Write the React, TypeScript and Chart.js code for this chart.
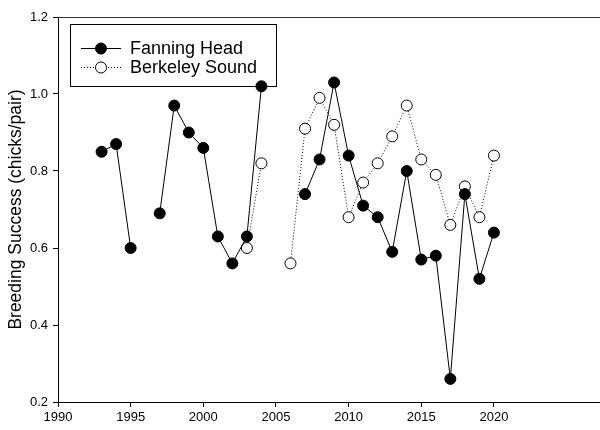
import React, { useEffect, useRef } from "react";
import { Chart, registerables } from "chart.js";

Chart.register(...registerables);

const fanningYears = [1993, 1994, 1995, 1996, 1997, 1998, 1999, 2000, 2001, 2002, 2003, 2004, 2005, 2006, 2007, 2008, 2009, 2010, 2011, 2012, 2013, 2014, 2015, 2016, 2017, 2018, 2019, 2020];
const fanningValues = [0.85, 0.87, 0.60, null, 0.69, 0.97, 0.90, 0.86, 0.63, 0.56, 0.63, 1.02, null, null, 0.74, 0.83, 1.03, 0.84, 0.71, 0.68, 0.59, 0.80, 0.57, 0.58, 0.26, 0.74, 0.52, 0.64];

const berkeleyYears = [2003, 2004, 2005, 2006, 2007, 2008, 2009, 2010, 2011, 2012, 2013, 2014, 2015, 2016, 2017, 2018, 2019, 2020];
const berkeleyValues = [0.60, 0.82, null, 0.56, 0.91, 0.99, 0.92, 0.68, 0.77, 0.82, 0.89, 0.97, 0.83, 0.79, 0.66, 0.76, 0.68, 0.84];

const seriesNames = ["Fanning Head", "Berkeley Sound"];
const xTickMax = 2020;
const yTitle = "Breeding Success (chicks/pair)";

const FONT = "Arial, 'Liberation Sans', sans-serif";

export default function App() {
  const ref = useRef<HTMLCanvasElement | null>(null);

  useEffect(() => {
    const canvas = ref.current;
    if (!canvas) return;

    const extras = {
      id: "extras",
      afterDraw(chart: any) {
        const ctx = chart.ctx;
        const area = chart.chartArea;
        ctx.save();
        // top border
        ctx.strokeStyle = "#333";
        ctx.lineWidth = 1.2;
        ctx.beginPath();
        ctx.moveTo(area.left, area.top + 0.5);
        ctx.lineTo(area.right, area.top + 0.5);
        ctx.stroke();

        // legend box
        ctx.strokeStyle = "#000";
        ctx.lineWidth = 1;
        ctx.strokeRect(70.5, 24.5, 206, 62);

        const rows = [
          { y: 48, dash: [] as number[], fill: "#000", label: seriesNames[0] },
          { y: 67, dash: [1, 2], fill: "#fff", label: seriesNames[1] },
        ];
        for (const r of rows) {
          ctx.setLineDash(r.dash);
          ctx.strokeStyle = "#000";
          ctx.lineWidth = 1;
          ctx.beginPath();
          ctx.moveTo(81, r.y + 0.5);
          ctx.lineTo(121, r.y + 0.5);
          ctx.stroke();
          ctx.setLineDash([]);
          ctx.beginPath();
          ctx.arc(101, r.y + 0.5, 5.5, 0, Math.PI * 2);
          ctx.fillStyle = r.fill;
          ctx.fill();
          ctx.stroke();
          ctx.fillStyle = "#000";
          ctx.font = `18px ${FONT}`;
          ctx.textBaseline = "middle";
          ctx.textAlign = "left";
          ctx.fillText(r.label, 130, r.y + 1);
        }
        ctx.restore();
      },
    };

    const chart = new Chart(canvas, {
      type: "line",
      data: {
        datasets: [
          {
            label: seriesNames[0],
            data: fanningYears.map((x, i) => ({ x, y: fanningValues[i] })),
            borderColor: "#000",
            borderWidth: 1,
            pointRadius: 5.5,
            pointBackgroundColor: "#000",
            pointBorderColor: "#000",
            pointBorderWidth: 1,
            spanGaps: false,
            tension: 0,
          },
          {
            label: seriesNames[1],
            data: berkeleyYears.map((x, i) => ({ x, y: berkeleyValues[i] })),
            borderColor: "#000",
            borderWidth: 1,
            borderDash: [1, 2],
            pointRadius: 5.5,
            pointBackgroundColor: "#fff",
            pointBorderColor: "#000",
            pointBorderWidth: 1,
            spanGaps: false,
            tension: 0,
          },
        ],
      } as any,
      options: {
        animation: false,
        responsive: false,
        devicePixelRatio: 1,
        layout: { autoPadding: false, padding: { top: 17, right: 0, left: 0, bottom: 0 } },
        plugins: { legend: { display: false }, tooltip: { enabled: false } },
        scales: {
          x: {
            type: "linear",
            min: 1990,
            max: 2027.3,
            grid: { display: true, drawOnChartArea: false, tickLength: 5, color: "#000" },
            border: { display: true, color: "#000", width: 1 },
            ticks: {
              stepSize: 5,
              color: "#000",
              font: { size: 13, family: FONT },
              padding: 3,
              maxRotation: 0,
              callback: (v: any) => String(v),
            },
            afterBuildTicks: (scale: any) => {
              scale.ticks = scale.ticks.filter((t: any) => t.value <= xTickMax && Math.abs(t.value % 5) < 1e-6);
            },
            afterFit: (scale: any) => {
              scale.height = 28;
              scale.paddingRight = 0;
              scale.paddingLeft = 0;
            },
          },
          y: {
            type: "linear",
            min: 0.2,
            max: 1.2,
            grid: { display: true, drawOnChartArea: false, tickLength: 5, color: "#000" },
            border: { display: true, color: "#000", width: 1 },
            ticks: {
              stepSize: 0.2,
              color: "#000",
              font: { size: 13, family: FONT },
              padding: 5,
              callback: (v: any) => Number(v).toFixed(1),
            },
            title: {
              display: true,
              text: yTitle,
              color: "#000",
              font: { size: 17.5, family: FONT },
              padding: { top: 6, bottom: 0 },
            },
            afterFit: (scale: any) => {
              scale.width = 58;
              scale.paddingTop = 0;
              scale.paddingBottom = 0;
            },
          },
        },
      } as any,
      plugins: [extras],
    });

    return () => chart.destroy();
  }, []);

  return (
    <div style={{ position: "fixed", left: 0, top: 0, width: 600, height: 430, background: "#fff" }}>
      <canvas ref={ref} width={600} height={430} style={{ display: "block", width: 600, height: 430 }} />
    </div>
  );
}
